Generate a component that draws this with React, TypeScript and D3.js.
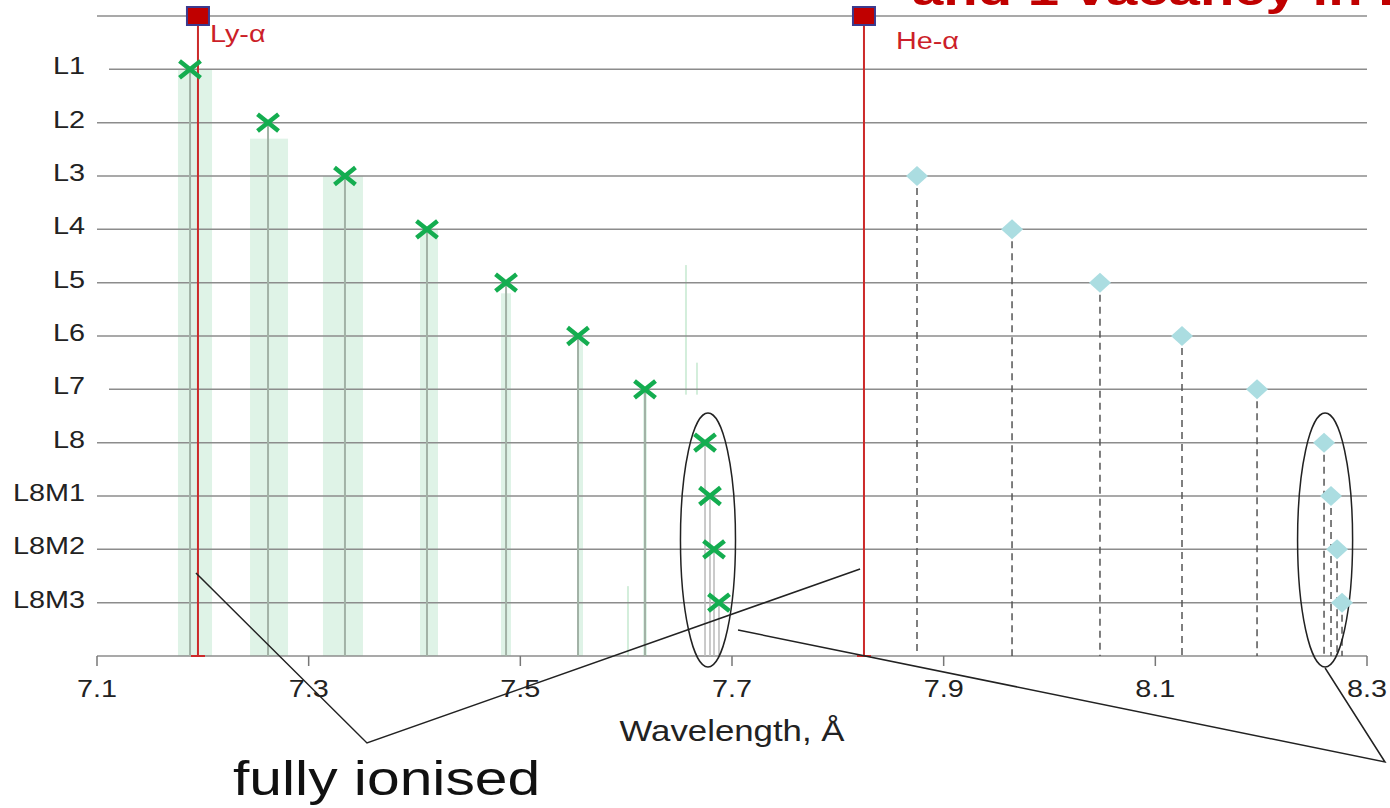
import React, { useEffect, useRef } from 'react';
import * as d3 from 'd3';

// level labels on the y axis (value = row index, 0 is the axis)
const levelLabels = ['L1', 'L2', 'L3', 'L4', 'L5', 'L6', 'L7', 'L8', 'L8M1', 'L8M2', 'L8M3'];
const levelValues = [11, 10, 9, 8, 7, 6, 5, 4, 3, 2, 1];
const topLevel = 12;
const shortGrid = ['L1', 'L7'];

const xTicks = [7.1, 7.3, 7.5, 7.7, 7.9, 8.1, 8.3];

// green crosses (one per level), wavelength in Å
const greenLambda = [7.1879, 7.2616, 7.3343, 7.4118, 7.4865, 7.5545, 7.6178, 7.6745, 7.6792, 7.683, 7.6877];

// light green bands behind the first crosses
const bandLo = [7.1765, 7.2446, 7.3135, 7.4052, 7.4817, 7.5536, 7.6159];
const bandHi = [7.2087, 7.2805, 7.3513, 7.4222, 7.4912, 7.5592, 7.6197];
const bandTop = [11, 9.7, 9, 8, 6.8, 6, 5];

// faint satellite lines
const faintLambda = [7.6017, 7.6565, 7.6669];
const faintTop = [1.31, 7.33, 5.5];
const faintBottom = [0, 4.9, 4.9];

// blue diamonds, levels L3..L8M3
const blueLambda = [7.8748, 7.9646, 8.0477, 8.1252, 8.1961, 8.2594, 8.266, 8.2717, 8.2764];
const blueLevels = [9, 8, 7, 6, 5, 4, 3, 2, 1];

// reference lines
const redNames = ['Ly-α', 'He-α'];
const redLambda = [7.1954, 7.8247];
const redLabelLevel = [11.66, 11.53];

// annotation callouts in data units (λ, level)
const calloutA: [number, number][] = [[7.1935, 1.556], [7.3551, -1.631], [7.821, 1.631]];
const calloutB: [number, number][] = [[7.7057, 0.4875], [8.317, -1.988], [8.2604, -0.225]];
const ellipseCenters: [number, number][] = [[7.6773, 2.175], [8.2604, 2.175]];
const ellipseRx = 0.026;
const ellipseRy = 2.38;

const STRETCH = 1.2;
const FONT = '"Liberation Sans", Arial, sans-serif';

const App: React.FC = () => {
  const svgRef = useRef<SVGSVGElement>(null);

  useEffect(() => {
    if (!svgRef.current) return;
    const svg = d3.select(svgRef.current);
    svg.selectAll('*').remove();

    const x = d3.scaleLinear().domain([7.1, 8.3]).range([97, 1367]);
    const y = d3.scaleLinear().domain([0, 12]).range([656, 16]);

    const txt = (px: number, py: number, s: string, size: number, color: string, anchor = 'start', weight = 'normal', sx = STRETCH) =>
      svg.append('text')
        .attr('transform', `translate(${px},${py}) scale(${sx},1)`)
        .attr('text-anchor', anchor)
        .style('font-family', FONT)
        .style('font-size', `${size}px`)
        .style('font-weight', weight)
        .style('fill', color)
        .text(s);

    // bands
    svg.selectAll('.band')
      .data(bandLo)
      .enter()
      .append('rect')
      .attr('x', (d) => x(d))
      .attr('width', (d, i) => x(bandHi[i]) - x(d))
      .attr('y', (d, i) => y(bandTop[i]))
      .attr('height', (d, i) => y(0) - y(bandTop[i]))
      .attr('fill', '#dff3e7');

    // faint lines
    svg.selectAll('.faint')
      .data(faintLambda)
      .enter()
      .append('line')
      .attr('x1', (d) => x(d))
      .attr('x2', (d) => x(d))
      .attr('y1', (d, i) => y(faintTop[i]))
      .attr('y2', (d, i) => y(faintBottom[i]))
      .attr('stroke', '#d3eedb')
      .attr('stroke-width', 2);

    // gridlines
    const grid = [{ name: '', v: topLevel }, ...levelLabels.map((n, i) => ({ name: n, v: levelValues[i] }))];
    svg.selectAll('.grid')
      .data(grid)
      .enter()
      .append('line')
      .attr('x1', (d) => (shortGrid.includes(d.name) ? x(7.1) + 12 : x(7.1)))
      .attr('x2', x(8.3))
      .attr('y1', (d) => y(d.v))
      .attr('y2', (d) => y(d.v))
      .attr('stroke', '#8c8c8c')
      .attr('stroke-width', 1.5);

    // axis
    svg.append('line')
      .attr('x1', x(7.1)).attr('x2', x(8.3))
      .attr('y1', y(0)).attr('y2', y(0))
      .attr('stroke', '#8c8c8c').attr('stroke-width', 1.5);
    svg.selectAll('.tick')
      .data(xTicks)
      .enter()
      .append('line')
      .attr('x1', (d) => x(d)).attr('x2', (d) => x(d))
      .attr('y1', y(0)).attr('y2', y(0) + 10)
      .attr('stroke', '#777').attr('stroke-width', 1.5);
    xTicks.forEach((t) => txt(x(t), 697, t.toFixed(1), 24, '#222', 'middle'));
    txt(732, 741, 'Wavelength, Å', 29, '#222', 'middle');

    // y labels
    levelLabels.forEach((n, i) => txt(85, y(levelValues[i]) + 5, n, 24, '#222', 'end'));

    // green stems
    svg.selectAll('.stem')
      .data(greenLambda)
      .enter()
      .append('line')
      .attr('x1', (d) => x(d)).attr('x2', (d) => x(d))
      .attr('y1', (d, i) => y(levelValues[i])).attr('y2', y(0))
      .attr('stroke', (d, i) => (i < 7 ? '#a2b2a6' : '#b9b9b9'))
      .attr('stroke-width', (d, i) => (i < 7 ? 2 : 1.5));

    // blue dashed stems
    svg.selectAll('.dash')
      .data(blueLambda)
      .enter()
      .append('line')
      .attr('x1', (d) => x(d)).attr('x2', (d) => x(d))
      .attr('y1', (d, i) => y(blueLevels[i])).attr('y2', y(0))
      .attr('stroke', '#555')
      .attr('stroke-width', 1.5)
      .attr('stroke-dasharray', '7,5');

    // red reference lines
    redLambda.forEach((l, i) => {
      svg.append('line')
        .attr('x1', x(l)).attr('x2', x(l))
        .attr('y1', y(topLevel)).attr('y2', y(0))
        .attr('stroke', '#cc2a2a').attr('stroke-width', 2);
      svg.append('line')
        .attr('x1', x(l) - 7).attr('x2', x(l) + 7)
        .attr('y1', y(0)).attr('y2', y(0))
        .attr('stroke', '#cc2a2a').attr('stroke-width', 2);
      svg.append('rect')
        .attr('x', x(l) - 11).attr('y', y(topLevel) - 9)
        .attr('width', 22).attr('height', 18)
        .attr('fill', '#c00000')
        .attr('stroke', '#3b3b8f').attr('stroke-width', 2);
      txt(x(l) + 12 + (i === 1 ? 20 : 0), y(redLabelLevel[i]) + 8, redNames[i], 24, '#cc1f2a');
    });

    // ellipses
    ellipseCenters.forEach(([cl, cv]) => {
      svg.append('ellipse')
        .attr('cx', x(cl)).attr('cy', y(cv))
        .attr('rx', x(cl + ellipseRx) - x(cl))
        .attr('ry', y(0) - y(ellipseRy))
        .attr('fill', 'none')
        .attr('stroke', '#222').attr('stroke-width', 1.5);
    });

    // callout lines
    const line = d3.line<[number, number]>().x((d) => x(d[0])).y((d) => y(d[1]));
    [calloutA, calloutB].forEach((c) => {
      svg.append('path')
        .attr('d', line(c))
        .attr('fill', 'none')
        .attr('stroke', '#222').attr('stroke-width', 1.5);
    });

    // green crosses
    const cross = 10.5;
    svg.selectAll('.cross')
      .data(greenLambda)
      .enter()
      .append('path')
      .attr('d', (d, i) => {
        const cx = x(d);
        const cy = y(levelValues[i]);
        return `M${cx - cross},${cy - cross * 0.8}L${cx + cross},${cy + cross * 0.8}M${cx - cross},${cy + cross * 0.8}L${cx + cross},${cy - cross * 0.8}`;
      })
      .attr('stroke', '#14ad50')
      .attr('stroke-width', 4.5)
      .attr('fill', 'none');

    // blue diamonds
    svg.selectAll('.diamond')
      .data(blueLambda)
      .enter()
      .append('path')
      .attr('d', (d, i) => {
        const cx = x(d);
        const cy = y(blueLevels[i]);
        return `M${cx},${cy - 10}L${cx + 11},${cy}L${cx},${cy + 10}L${cx - 11},${cy}Z`;
      })
      .attr('fill', '#abdde1');

    // annotation text
    txt(233, 795, 'fully ionised', 49, '#111');
    txt(912, 5, 'and 1 vacancy in L-shell', 44, '#c00000', 'start', 'bold', 1.28);
  }, []);

  return (
    <div style={{ position: 'absolute', left: 0, top: 0, width: 1390, height: 808, overflow: 'hidden', background: '#fff' }}>
      <svg ref={svgRef} width={1390} height={808} style={{ display: 'block' }} />
    </div>
  );
};

export default App;
